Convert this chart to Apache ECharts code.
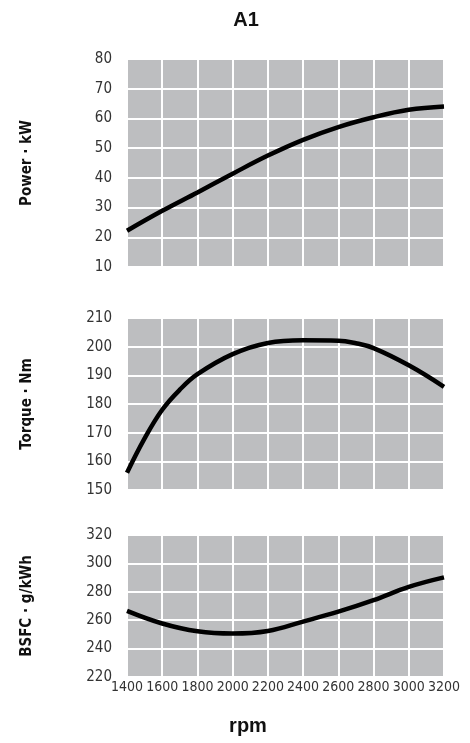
<!DOCTYPE html>
<html>
<head>
<meta charset="utf-8">
<script src="https://cdn.jsdelivr.net/npm/echarts@6/dist/echarts.min.js"></script>
<style>
html,body{margin:0;padding:0;background:#fff;}
#chart{width:470px;height:743px;}
</style>
</head>
<body>
<div id="chart"></div>
<script>
// ---- data ----
var titleText = 'A1';
var xName = 'rpm';
var xTicks = {min: 1400, max: 3200, interval: 200};

var powerName = 'Power · kW';
var powerRpm = [1400, 1600, 1800, 2000, 2200, 2400, 2600, 2800, 3000, 3200];
var powerVal = [22.2, 28.9, 35.1, 41.4, 47.5, 52.8, 57.1, 60.4, 62.9, 64.0];

var torqueName = 'Torque · Nm';
var torqueRpm = [1400, 1500, 1600, 1700, 1800, 2000, 2200, 2400, 2600, 2700, 2800, 3000, 3200];
var torqueVal = [156, 168, 178, 185, 190.4, 197.4, 201.3, 202.2, 202.1, 201.2, 199.5, 193.5, 186];

var bsfcName = 'BSFC · g/kWh';
var bsfcRpm = [1400, 1600, 1800, 2000, 2200, 2400, 2600, 2800, 3000, 3200];
var bsfcVal = [266.6, 257.7, 252.2, 250.6, 252.4, 259.0, 266.0, 274.1, 283.5, 290.2];

var yRanges = [
  {min: 10, max: 80, interval: 10},
  {min: 150, max: 210, interval: 10},
  {min: 220, max: 320, interval: 20}
];

function pairs(xs, ys) { return xs.map(function (x, i) { return [x, ys[i]]; }); }

var tickFont = "'DejaVu Sans Condensed', 'Liberation Sans Narrow', sans-serif";
var nameFont = "'DejaVu Sans Condensed', 'Liberation Sans Narrow', sans-serif";
var gray = '#bdbec0';

var grids = [
  {left: 127, top: 59, width: 317, height: 208},
  {left: 127, top: 318, width: 317, height: 172},
  {left: 127, top: 535, width: 317, height: 142}
];

var names = [powerName, torqueName, bsfcName];

var chart = echarts.init(document.getElementById('chart'), null, {renderer: 'canvas'});

var option = {
  animation: false,
  backgroundColor: '#fff',
  grid: grids.map(function (g) {
    return Object.assign({show: true, backgroundColor: gray, borderWidth: 0, containLabel: false}, g);
  }),
  xAxis: [0, 1, 2].map(function (i) {
    return {
      type: 'value', gridIndex: i,
      min: xTicks.min, max: xTicks.max, interval: xTicks.interval,
      axisLine: {show: false}, axisTick: {show: false},
      axisLabel: {show: i === 2, fontFamily: tickFont, fontSize: 14, color: '#333', margin: 3,
        showMinLabel: true, showMaxLabel: true, hideOverlap: false,
        formatter: function (v) { return String(v); }},
      splitLine: {show: true, lineStyle: {color: '#fff', width: 2}}
    };
  }),
  yAxis: [0, 1, 2].map(function (i) {
    return {
      type: 'value', gridIndex: i,
      min: yRanges[i].min, max: yRanges[i].max, interval: yRanges[i].interval,
      name: names[i], nameLocation: 'middle', nameGap: 92,
      nameTextStyle: {fontFamily: nameFont, fontWeight: 'bold', fontSize: 15, color: '#111'},
      axisLine: {show: false}, axisTick: {show: false},
      axisLabel: {fontFamily: tickFont, fontSize: 15, color: '#333', margin: 15,
        formatter: function (v) { return String(v); }},
      splitLine: {show: true, lineStyle: {color: '#fff', width: 2}}
    };
  }),
  series: [
    {type: 'line', xAxisIndex: 0, yAxisIndex: 0, data: pairs(powerRpm, powerVal)},
    {type: 'line', xAxisIndex: 1, yAxisIndex: 1, data: pairs(torqueRpm, torqueVal)},
    {type: 'line', xAxisIndex: 2, yAxisIndex: 2, data: pairs(bsfcRpm, bsfcVal)}
  ].map(function (s) {
    return Object.assign({smooth: 0.4, showSymbol: false, symbol: 'none',
      lineStyle: {color: '#000', width: 4.5, cap: 'butt'}}, s);
  }),
  graphic: [
    {type: 'text', x: 246, y: 20, style: {text: titleText, fontFamily: "'Liberation Sans', Arial, sans-serif",
      fontWeight: 'bold', fontSize: 20, fill: '#111', align: 'center', verticalAlign: 'middle'}},
    {type: 'text', x: 248, y: 726, style: {text: xName, fontFamily: "'Liberation Sans', Arial, sans-serif",
      fontWeight: 'bold', fontSize: 20, fill: '#111', align: 'center', verticalAlign: 'middle'}}
  ]
};
chart.setOption(option);
</script>
</body>
</html>
